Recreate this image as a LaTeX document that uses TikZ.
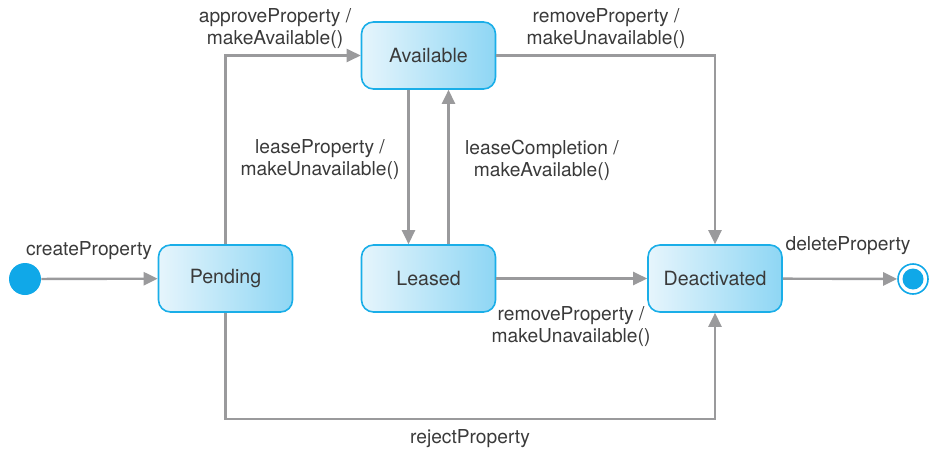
\documentclass[tikz,border=0pt]{standalone}
\usepackage{fontspec}
\setmainfont{TeX Gyre Heros}
\usetikzlibrary{arrows.meta,positioning}
\definecolor{StateLine}{HTML}{1AAEE8}
\definecolor{StateLight}{HTML}{E6F5FC}
\definecolor{StateDark}{HTML}{8ED6F4}
\definecolor{FlowGray}{HTML}{9A9A9C}
\definecolor{LabelInk}{HTML}{3A3A3A}
\definecolor{DotBlue}{HTML}{10A8E8}

\tikzset{
  state/.style={rectangle,rounded corners=6pt,draw=StateLine,line width=0.8pt,
    left color=StateLight,right color=StateDark,minimum width=67pt,minimum height=33.5pt,
    text=LabelInk,font=\fontsize{9.8}{11}\selectfont},
  flow/.style={FlowGray,line width=1.2pt,-{Triangle[length=7pt,width=6.5pt]}},
  lbl/.style={text=LabelInk,font=\fontsize{9.6}{11}\selectfont,align=center,inner sep=0pt}
}

\begin{document}
\begin{tikzpicture}[x=0.5pt,y=-0.5pt]
    \useasboundingbox (0,0) rectangle (929,449);
    % states
    \node[circle,fill=DotBlue,minimum size=16pt,inner sep=0pt] (init) at (25,279) {};
    \node[state] (pending) at (225.5,278.5) {Pending};
    \node[state] (available) at (428.5,55.5) {Available};
    \node[state] (leased) at (428.5,278.5) {Leased};
    \node[state] (deact) at (715,278.5) {Deactivated};
    \node[circle,draw=DotBlue,fill=white,line width=0.8pt,minimum size=15pt,inner sep=0pt] (final) at (913,279) {};
    \node[circle,fill=DotBlue,minimum size=10.5pt,inner sep=0pt] at (final) {};
    % transitions
    \draw[flow] (init) -- (pending);
    \draw[flow] (pending.north) |- (available.west);
    \draw[flow] (available.east) -| (deact.north);
    \draw[flow] ([xshift=-10pt]available.south) -- ([xshift=-10pt]leased.north);
    \draw[flow] ([xshift=10pt]leased.north) -- ([xshift=10pt]available.south);
    \draw[flow] (leased) -- (deact);
    \draw[flow] (pending.south) -- ++(0,106) -| (deact.south);
    \draw[flow] (deact) -- (final);
    % labels
    \node[lbl] at (89,251) {createProperty};
    \node[lbl] at (275,29) {approveProperty /\\makeAvailable()};
    \node[lbl] at (606,29) {removeProperty /\\makeUnavailable()};
    \node[lbl] at (320,160) {leaseProperty /\\makeUnavailable()};
    \node[lbl] at (542,160) {leaseCompletion /\\makeAvailable()};
    \node[lbl] at (571,327) {removeProperty /\\makeUnavailable()};
    \node[lbl] at (470,439) {rejectProperty};
    \node[lbl] at (848,246) {deleteProperty};
\end{tikzpicture}
\end{document}
